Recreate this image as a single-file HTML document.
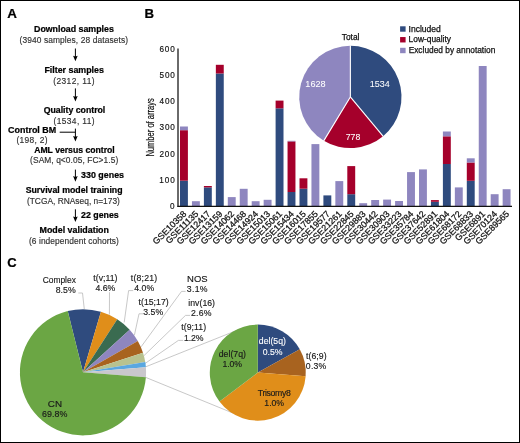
<!DOCTYPE html>
<html><head><meta charset="utf-8"><style>
html,body{margin:0;padding:0;background:#fff;}
svg{display:block;will-change:transform;}
text{font-family:"Liberation Sans",sans-serif;}
</style></head><body>
<svg width="520" height="443" viewBox="0 0 520 443">
<rect x="0.5" y="0.5" width="519" height="442" fill="#fff" stroke="#000" stroke-width="1"/>
<text x="7.27" y="17.8" font-size="12.4" font-weight="bold" fill="#000" stroke="#000" stroke-width="0.22" textLength="9.66" lengthAdjust="spacingAndGlyphs">A</text>
<text x="144.54" y="18.0" font-size="12.4" font-weight="bold" fill="#000" stroke="#000" stroke-width="0.22" textLength="9.55" lengthAdjust="spacingAndGlyphs">B</text>
<text x="7.28" y="266.6" font-size="12.4" font-weight="bold" fill="#000" stroke="#000" stroke-width="0.22" textLength="9.37" lengthAdjust="spacingAndGlyphs">C</text>
<text x="34.03" y="31.9" font-size="8.7" font-weight="bold" fill="#000" stroke="#000" stroke-width="0.22" textLength="79.81" lengthAdjust="spacingAndGlyphs">Download samples</text>
<text x="19.50" y="43.2" font-size="8.4" fill="#303030" stroke="#303030" stroke-width="0.15" textLength="108.52" lengthAdjust="spacing">(3940 samples, 28 datasets)</text>
<line x1="75.4" y1="48.5" x2="75.4" y2="58.3" stroke="#000" stroke-width="1"/>
<path d="M73.10,55.70 L75.4,61.3 L77.70,55.70 L75.4,56.50Z" fill="#000"/>
<text x="44.42" y="73" font-size="8.7" font-weight="bold" fill="#000" stroke="#000" stroke-width="0.22" textLength="59.51" lengthAdjust="spacingAndGlyphs">Filter samples</text>
<text x="53.30" y="83.8" font-size="8.4" fill="#303030" stroke="#303030" stroke-width="0.15" textLength="41.20" lengthAdjust="spacing">(2312, 11)</text>
<line x1="75.4" y1="88.4" x2="75.4" y2="98.5" stroke="#000" stroke-width="1"/>
<path d="M73.10,95.90 L75.4,101.5 L77.70,95.90 L75.4,96.70Z" fill="#000"/>
<text x="43.65" y="113.1" font-size="8.7" font-weight="bold" fill="#000" stroke="#000" stroke-width="0.22" textLength="61.67" lengthAdjust="spacingAndGlyphs">Quality control</text>
<text x="53.50" y="123.5" font-size="8.4" fill="#303030" stroke="#303030" stroke-width="0.15" textLength="41.10" lengthAdjust="spacing">(1534, 11)</text>
<text x="8.14" y="133.2" font-size="8.7" font-weight="bold" fill="#000" stroke="#000" stroke-width="0.22" textLength="48.04" lengthAdjust="spacingAndGlyphs">Control BM</text>
<text x="16.40" y="143.0" font-size="8.4" fill="#303030" stroke="#303030" stroke-width="0.15" textLength="31.12" lengthAdjust="spacing">(198, 2)</text>
<line x1="59.7" y1="132.2" x2="75.4" y2="132.2" stroke="#000" stroke-width="1"/>
<line x1="75.4" y1="128.6" x2="75.4" y2="138.5" stroke="#000" stroke-width="1"/>
<path d="M73.10,135.90 L75.4,141.5 L77.70,135.90 L75.4,136.70Z" fill="#000"/>
<text x="34.18" y="152.7" font-size="8.7" font-weight="bold" fill="#000" stroke="#000" stroke-width="0.22" textLength="80.52" lengthAdjust="spacingAndGlyphs">AML versus control</text>
<text x="30.10" y="163.3" font-size="8.4" fill="#303030" stroke="#303030" stroke-width="0.15" textLength="88.11" lengthAdjust="spacing">(SAM, q&lt;0.05, FC&gt;1.5)</text>
<line x1="75.4" y1="169.6" x2="75.4" y2="178.7" stroke="#000" stroke-width="1"/>
<path d="M73.10,176.10 L75.4,181.7 L77.70,176.10 L75.4,176.90Z" fill="#000"/>
<text x="81.10" y="177.7" font-size="8.7" font-weight="bold" fill="#000" stroke="#000" stroke-width="0.22" textLength="42.95" lengthAdjust="spacingAndGlyphs">330 genes</text>
<text x="25.66" y="193" font-size="8.7" font-weight="bold" fill="#000" stroke="#000" stroke-width="0.22" textLength="96.92" lengthAdjust="spacingAndGlyphs">Survival model training</text>
<text x="26.90" y="203.7" font-size="8.4" fill="#303030" stroke="#303030" stroke-width="0.15" textLength="93.01" lengthAdjust="spacing">(TCGA, RNAseq, n=173)</text>
<line x1="75.4" y1="209.3" x2="75.4" y2="219" stroke="#000" stroke-width="1"/>
<path d="M73.10,216.40 L75.4,222 L77.70,216.40 L75.4,217.20Z" fill="#000"/>
<text x="81.01" y="218.4" font-size="8.7" font-weight="bold" fill="#000" stroke="#000" stroke-width="0.22" textLength="37.72" lengthAdjust="spacingAndGlyphs">22 genes</text>
<text x="39.52" y="232.7" font-size="8.7" font-weight="bold" fill="#000" stroke="#000" stroke-width="0.22" textLength="69.42" lengthAdjust="spacingAndGlyphs">Model validation</text>
<text x="29.00" y="243.5" font-size="8.4" fill="#303030" stroke="#303030" stroke-width="0.15" textLength="89.91" lengthAdjust="spacing">(6 independent cohorts)</text>
<rect x="180.00" y="180.7" width="7.9" height="25.30" fill="#2f4b7e"/>
<rect x="180.00" y="130.2" width="7.9" height="50.50" fill="#a5002b"/>
<rect x="180.00" y="126.5" width="7.9" height="3.70" fill="#8e86bf"/>
<text transform="translate(187.05,214.4) rotate(-45)" font-size="8.9" text-anchor="end" fill="#111" stroke="#111" stroke-width="0.25">GSE10358</text>
<rect x="191.95" y="201.2" width="7.9" height="4.80" fill="#8e86bf"/>
<text transform="translate(199.00,214.4) rotate(-45)" font-size="8.9" text-anchor="end" fill="#111" stroke="#111" stroke-width="0.25">GSE11135</text>
<rect x="203.90" y="187.4" width="7.9" height="18.60" fill="#2f4b7e"/>
<rect x="203.90" y="186" width="7.9" height="1.40" fill="#a5002b"/>
<text transform="translate(210.95,214.4) rotate(-45)" font-size="8.9" text-anchor="end" fill="#111" stroke="#111" stroke-width="0.25">GSE12417</text>
<rect x="215.85" y="73.5" width="7.9" height="132.50" fill="#2f4b7e"/>
<rect x="215.85" y="64.8" width="7.9" height="8.70" fill="#a5002b"/>
<text transform="translate(222.90,214.4) rotate(-45)" font-size="8.9" text-anchor="end" fill="#111" stroke="#111" stroke-width="0.25">GSE13159</text>
<rect x="227.80" y="197.1" width="7.9" height="8.90" fill="#8e86bf"/>
<text transform="translate(234.85,214.4) rotate(-45)" font-size="8.9" text-anchor="end" fill="#111" stroke="#111" stroke-width="0.25">GSE14062</text>
<rect x="239.75" y="188.8" width="7.9" height="17.20" fill="#8e86bf"/>
<text transform="translate(246.80,214.4) rotate(-45)" font-size="8.9" text-anchor="end" fill="#111" stroke="#111" stroke-width="0.25">GSE14468</text>
<rect x="251.70" y="201.2" width="7.9" height="4.80" fill="#8e86bf"/>
<text transform="translate(258.75,214.4) rotate(-45)" font-size="8.9" text-anchor="end" fill="#111" stroke="#111" stroke-width="0.25">GSE14924</text>
<rect x="263.65" y="199.8" width="7.9" height="6.20" fill="#8e86bf"/>
<text transform="translate(270.70,214.4) rotate(-45)" font-size="8.9" text-anchor="end" fill="#111" stroke="#111" stroke-width="0.25">GSE15013</text>
<rect x="275.60" y="108.3" width="7.9" height="97.70" fill="#2f4b7e"/>
<rect x="275.60" y="100.6" width="7.9" height="7.70" fill="#a5002b"/>
<text transform="translate(282.65,214.4) rotate(-45)" font-size="8.9" text-anchor="end" fill="#111" stroke="#111" stroke-width="0.25">GSE15061</text>
<rect x="287.55" y="192" width="7.9" height="14.00" fill="#2f4b7e"/>
<rect x="287.55" y="141.4" width="7.9" height="50.60" fill="#a5002b"/>
<rect x="287.55" y="140.8" width="7.9" height="0.60" fill="#8e86bf"/>
<text transform="translate(294.60,214.4) rotate(-45)" font-size="8.9" text-anchor="end" fill="#111" stroke="#111" stroke-width="0.25">GSE15434</text>
<rect x="299.50" y="188.7" width="7.9" height="17.30" fill="#2f4b7e"/>
<rect x="299.50" y="178.3" width="7.9" height="10.40" fill="#a5002b"/>
<text transform="translate(306.55,214.4) rotate(-45)" font-size="8.9" text-anchor="end" fill="#111" stroke="#111" stroke-width="0.25">GSE16015</text>
<rect x="311.45" y="144.1" width="7.9" height="61.90" fill="#8e86bf"/>
<text transform="translate(318.50,214.4) rotate(-45)" font-size="8.9" text-anchor="end" fill="#111" stroke="#111" stroke-width="0.25">GSE17855</text>
<rect x="323.40" y="195.4" width="7.9" height="10.60" fill="#2f4b7e"/>
<text transform="translate(330.45,214.4) rotate(-45)" font-size="8.9" text-anchor="end" fill="#111" stroke="#111" stroke-width="0.25">GSE19577</text>
<rect x="335.35" y="181.1" width="7.9" height="24.90" fill="#8e86bf"/>
<text transform="translate(342.40,214.4) rotate(-45)" font-size="8.9" text-anchor="end" fill="#111" stroke="#111" stroke-width="0.25">GSE21261</text>
<rect x="347.30" y="194.2" width="7.9" height="11.80" fill="#2f4b7e"/>
<rect x="347.30" y="166.1" width="7.9" height="28.10" fill="#a5002b"/>
<text transform="translate(354.35,214.4) rotate(-45)" font-size="8.9" text-anchor="end" fill="#111" stroke="#111" stroke-width="0.25">GSE22845</text>
<rect x="359.25" y="203.2" width="7.9" height="2.80" fill="#8e86bf"/>
<text transform="translate(366.30,214.4) rotate(-45)" font-size="8.9" text-anchor="end" fill="#111" stroke="#111" stroke-width="0.25">GSE29883</text>
<rect x="371.20" y="200" width="7.9" height="6.00" fill="#8e86bf"/>
<text transform="translate(378.25,214.4) rotate(-45)" font-size="8.9" text-anchor="end" fill="#111" stroke="#111" stroke-width="0.25">GSE30442</text>
<rect x="383.15" y="199.6" width="7.9" height="6.40" fill="#8e86bf"/>
<text transform="translate(390.20,214.4) rotate(-45)" font-size="8.9" text-anchor="end" fill="#111" stroke="#111" stroke-width="0.25">GSE30903</text>
<rect x="395.10" y="201" width="7.9" height="5.00" fill="#8e86bf"/>
<text transform="translate(402.15,214.4) rotate(-45)" font-size="8.9" text-anchor="end" fill="#111" stroke="#111" stroke-width="0.25">GSE33223</text>
<rect x="407.05" y="172.1" width="7.9" height="33.90" fill="#8e86bf"/>
<text transform="translate(414.10,214.4) rotate(-45)" font-size="8.9" text-anchor="end" fill="#111" stroke="#111" stroke-width="0.25">GSE35784</text>
<rect x="419.00" y="169.4" width="7.9" height="36.60" fill="#8e86bf"/>
<text transform="translate(426.05,214.4) rotate(-45)" font-size="8.9" text-anchor="end" fill="#111" stroke="#111" stroke-width="0.25">GSE37642</text>
<rect x="430.95" y="201.8" width="7.9" height="4.20" fill="#2f4b7e"/>
<rect x="430.95" y="200.1" width="7.9" height="1.70" fill="#a5002b"/>
<text transform="translate(438.00,214.4) rotate(-45)" font-size="8.9" text-anchor="end" fill="#111" stroke="#111" stroke-width="0.25">GSE52891</text>
<rect x="442.90" y="164" width="7.9" height="42.00" fill="#2f4b7e"/>
<rect x="442.90" y="136.3" width="7.9" height="27.70" fill="#a5002b"/>
<rect x="442.90" y="131.5" width="7.9" height="4.80" fill="#8e86bf"/>
<text transform="translate(449.95,214.4) rotate(-45)" font-size="8.9" text-anchor="end" fill="#111" stroke="#111" stroke-width="0.25">GSE61804</text>
<rect x="454.85" y="187.4" width="7.9" height="18.60" fill="#8e86bf"/>
<text transform="translate(461.90,214.4) rotate(-45)" font-size="8.9" text-anchor="end" fill="#111" stroke="#111" stroke-width="0.25">GSE68172</text>
<rect x="466.80" y="180.8" width="7.9" height="25.20" fill="#2f4b7e"/>
<rect x="466.80" y="162.5" width="7.9" height="18.30" fill="#a5002b"/>
<rect x="466.80" y="158.3" width="7.9" height="4.20" fill="#8e86bf"/>
<text transform="translate(473.85,214.4) rotate(-45)" font-size="8.9" text-anchor="end" fill="#111" stroke="#111" stroke-width="0.25">GSE68833</text>
<rect x="478.75" y="66" width="7.9" height="140.00" fill="#8e86bf"/>
<text transform="translate(485.80,214.4) rotate(-45)" font-size="8.9" text-anchor="end" fill="#111" stroke="#111" stroke-width="0.25">GSE6891</text>
<rect x="490.70" y="194.2" width="7.9" height="11.80" fill="#8e86bf"/>
<text transform="translate(497.75,214.4) rotate(-45)" font-size="8.9" text-anchor="end" fill="#111" stroke="#111" stroke-width="0.25">GSE70124</text>
<rect x="502.65" y="189.2" width="7.9" height="16.80" fill="#8e86bf"/>
<text transform="translate(509.70,214.4) rotate(-45)" font-size="8.9" text-anchor="end" fill="#111" stroke="#111" stroke-width="0.25">GSE89565</text>
<line x1="178.0" y1="48.6" x2="178.0" y2="207" stroke="#111" stroke-width="1.25"/>
<line x1="177.4" y1="206.4" x2="512" y2="206.4" stroke="#111" stroke-width="1.25"/>
<text x="169.99" y="209.0" font-size="8.2" fill="#111" stroke="#111" stroke-width="0.15" textLength="4.92" lengthAdjust="spacing">0</text>
<text x="159.19" y="182.82" font-size="8.2" fill="#111" stroke="#111" stroke-width="0.15" textLength="15.73" lengthAdjust="spacing">100</text>
<text x="159.39" y="156.64000000000001" font-size="8.2" fill="#111" stroke="#111" stroke-width="0.15" textLength="15.53" lengthAdjust="spacing">200</text>
<text x="159.49" y="130.46" font-size="8.2" fill="#111" stroke="#111" stroke-width="0.15" textLength="15.42" lengthAdjust="spacing">300</text>
<text x="159.62" y="104.28" font-size="8.2" fill="#111" stroke="#111" stroke-width="0.15" textLength="15.30" lengthAdjust="spacing">400</text>
<text x="159.47" y="78.1" font-size="8.2" fill="#111" stroke="#111" stroke-width="0.15" textLength="15.44" lengthAdjust="spacing">500</text>
<text x="159.39" y="51.92000000000001" font-size="8.2" fill="#111" stroke="#111" stroke-width="0.15" textLength="15.53" lengthAdjust="spacing">600</text>
<text transform="translate(153.9,156.6) rotate(-90)" font-size="10.6" textLength="58.4" lengthAdjust="spacingAndGlyphs" fill="#111" stroke="#111" stroke-width="0.2">Number of arrays</text>
<path d="M350.35,96.95 L350.35,45.80 A51.15,51.15 0 0 1 383.12,136.23 Z" fill="#2f4b7e"/>
<path d="M350.35,96.95 L383.12,136.23 A51.15,51.15 0 0 1 323.82,140.68 Z" fill="#a5002b"/>
<path d="M350.35,96.95 L323.82,140.68 A51.15,51.15 0 0 1 350.35,45.80 Z" fill="#8e86bf"/>
<line x1="350.35" y1="96.95" x2="350.35" y2="45.30" stroke="#fff" stroke-width="1.1"/>
<line x1="350.35" y1="96.95" x2="383.44" y2="136.61" stroke="#fff" stroke-width="1.1"/>
<line x1="350.35" y1="96.95" x2="323.56" y2="141.11" stroke="#fff" stroke-width="1.1"/>
<text x="341.73" y="39.5" font-size="8.7" fill="#111" stroke="#111" stroke-width="0.25" textLength="17.71" lengthAdjust="spacingAndGlyphs">Total</text>
<text x="369.73" y="87.2" font-size="8.2" fill="#fff" stroke="#fff" stroke-width="0.05" textLength="19.94" lengthAdjust="spacingAndGlyphs">1534</text>
<text x="305.32" y="87.2" font-size="8.2" fill="#fff" stroke="#fff" stroke-width="0.05" textLength="20.27" lengthAdjust="spacingAndGlyphs">1628</text>
<text x="345.76" y="140.2" font-size="8.2" fill="#fff" stroke="#fff" stroke-width="0.05" textLength="14.60" lengthAdjust="spacingAndGlyphs">778</text>
<rect x="400.1" y="26.30" width="5.5" height="5.4" fill="#2f4b7e"/>
<text x="408.53" y="31.6" font-size="8.3" fill="#111" stroke="#111" stroke-width="0.25" textLength="32.31" lengthAdjust="spacingAndGlyphs">Included</text>
<rect x="400.1" y="37.05" width="5.5" height="5.4" fill="#a5002b"/>
<text x="408.63" y="42.349999999999994" font-size="8.3" fill="#111" stroke="#111" stroke-width="0.25" textLength="42.38" lengthAdjust="spacingAndGlyphs">Low-quality</text>
<rect x="400.1" y="47.80" width="5.5" height="5.4" fill="#8e86bf"/>
<text x="408.63" y="53.099999999999994" font-size="8.3" fill="#111" stroke="#111" stroke-width="0.25" textLength="86.70" lengthAdjust="spacingAndGlyphs">Excluded by annotation</text>
<polyline points="78.3,293 82.5,293 84.3,309.2" stroke="#b0b0b0" stroke-width="0.7" fill="none"/>
<polyline points="109.5,292.2 109.4,314.5" stroke="#b0b0b0" stroke-width="0.7" fill="none"/>
<polyline points="133.2,290.6 128.6,290.6 124.2,322.4" stroke="#b0b0b0" stroke-width="0.7" fill="none"/>
<polyline points="143,313.8 139,313.8 134.4,335.2" stroke="#b0b0b0" stroke-width="0.7" fill="none"/>
<polyline points="185.6,291.4 181.5,291.4 141.1,346.8" stroke="#b0b0b0" stroke-width="0.7" fill="none"/>
<polyline points="190,315.4 185.5,315.4 144,355.6" stroke="#b0b0b0" stroke-width="0.7" fill="none"/>
<polyline points="183.1,340.4 178.4,340.4 144.9,363.6" stroke="#b0b0b0" stroke-width="0.7" fill="none"/>
<line x1="145.5" y1="366.9" x2="243" y2="327.9" stroke="#b0b0b0" stroke-width="0.7" fill="none"/>
<line x1="145.5" y1="377.3" x2="233.5" y2="413.3" stroke="#b0b0b0" stroke-width="0.7" fill="none"/>
<path d="M83.0,372.3 L67.73,311.07 A63.1,63.1 0 0 1 100.92,311.80 Z" fill="#2f4b7e"/>
<path d="M83.0,372.3 L100.92,311.80 A63.1,63.1 0 0 1 117.27,319.32 Z" fill="#e08e1a"/>
<path d="M83.0,372.3 L117.27,319.32 A63.1,63.1 0 0 1 129.67,329.83 Z" fill="#3a6b50"/>
<path d="M83.0,372.3 L129.67,329.83 A63.1,63.1 0 0 1 137.81,341.04 Z" fill="#8e86bf"/>
<path d="M83.0,372.3 L137.81,341.04 A63.1,63.1 0 0 1 143.01,352.80 Z" fill="#a8631f"/>
<path d="M83.0,372.3 L143.01,352.80 A63.1,63.1 0 0 1 145.27,362.10 Z" fill="#b8c28f"/>
<path d="M83.0,372.3 L145.27,362.10 A63.1,63.1 0 0 1 145.89,367.13 Z" fill="#5aa7e0"/>
<path d="M83.0,372.3 L145.89,367.13 A63.1,63.1 0 0 1 145.90,377.36 Z" fill="#c9c7cc"/>
<path d="M83.0,372.3 L145.90,377.36 A63.1,63.1 0 1 1 67.73,311.07 Z" fill="#6ba644"/>
<path d="M257.8,372.6 L257.80,324.60 A48,48 0 0 1 299.78,349.33 Z" fill="#2f4b7e"/>
<path d="M257.8,372.6 L299.78,349.33 A48,48 0 0 1 305.65,376.37 Z" fill="#a8631f"/>
<path d="M257.8,372.6 L305.65,376.37 A48,48 0 0 1 219.47,401.49 Z" fill="#e08e1a"/>
<path d="M257.8,372.6 L219.47,401.49 A48,48 0 0 1 257.80,324.60 Z" fill="#6ba644"/>
<text x="42.68" y="282.8" font-size="8.7" fill="#1a1a1a" stroke="#1a1a1a" stroke-width="0.15" textLength="33.21" lengthAdjust="spacingAndGlyphs">Complex</text>
<text x="55.63" y="293.2" font-size="8.7" fill="#1a1a1a" stroke="#1a1a1a" stroke-width="0.15" textLength="20.17" lengthAdjust="spacing">8.5%</text>
<text x="93.27" y="280.8" font-size="8.7" fill="#1a1a1a" stroke="#1a1a1a" stroke-width="0.15" textLength="24.15" lengthAdjust="spacing">t(v;11)</text>
<text x="95.50" y="291.3" font-size="8.7" fill="#1a1a1a" stroke="#1a1a1a" stroke-width="0.15" textLength="19.69" lengthAdjust="spacing">4.6%</text>
<text x="130.87" y="280.8" font-size="8.7" fill="#1a1a1a" stroke="#1a1a1a" stroke-width="0.15" textLength="26.25" lengthAdjust="spacing">t(8;21)</text>
<text x="134.20" y="291.3" font-size="8.7" fill="#1a1a1a" stroke="#1a1a1a" stroke-width="0.15" textLength="19.99" lengthAdjust="spacing">4.0%</text>
<text x="138.57" y="304.5" font-size="8.7" fill="#1a1a1a" stroke="#1a1a1a" stroke-width="0.15" textLength="30.06" lengthAdjust="spacing">t(15;17)</text>
<text x="143.17" y="314.8" font-size="8.7" fill="#1a1a1a" stroke="#1a1a1a" stroke-width="0.15" textLength="20.03" lengthAdjust="spacing">3.5%</text>
<text x="187.14" y="281.6" font-size="8.7" fill="#1a1a1a" stroke="#1a1a1a" stroke-width="0.15" textLength="20.48" lengthAdjust="spacingAndGlyphs">NOS</text>
<text x="186.77" y="292" font-size="8.7" fill="#1a1a1a" stroke="#1a1a1a" stroke-width="0.15" textLength="20.73" lengthAdjust="spacing">3.1%</text>
<text x="188.23" y="305.8" font-size="8.7" fill="#1a1a1a" stroke="#1a1a1a" stroke-width="0.15" textLength="26.80" lengthAdjust="spacing">inv(16)</text>
<text x="190.97" y="315.9" font-size="8.7" fill="#1a1a1a" stroke="#1a1a1a" stroke-width="0.15" textLength="20.63" lengthAdjust="spacing">2.6%</text>
<text x="181.27" y="329.9" font-size="8.7" fill="#1a1a1a" stroke="#1a1a1a" stroke-width="0.15" textLength="24.86" lengthAdjust="spacing">t(9;11)</text>
<text x="184.05" y="340.8" font-size="8.7" fill="#1a1a1a" stroke="#1a1a1a" stroke-width="0.15" textLength="19.55" lengthAdjust="spacing">1.2%</text>
<text x="47.81" y="407.1" font-size="8.9" fill="#1a1a1a" stroke="#1a1a1a" stroke-width="0.15" textLength="14.22" lengthAdjust="spacingAndGlyphs">CN</text>
<text x="42.05" y="417.4" font-size="8.9" fill="#1a1a1a" stroke="#1a1a1a" stroke-width="0.15" textLength="25.24" lengthAdjust="spacing">69.8%</text>
<text x="258.85" y="344.2" font-size="8.7" fill="#fff" stroke="#fff" stroke-width="0.1" textLength="27.07" lengthAdjust="spacing">del(5q)</text>
<text x="262.77" y="354.6" font-size="8.7" fill="#fff" stroke="#fff" stroke-width="0.1" textLength="19.83" lengthAdjust="spacing">0.5%</text>
<text x="306.07" y="358.8" font-size="8.7" fill="#1a1a1a" stroke="#1a1a1a" stroke-width="0.15" textLength="20.47" lengthAdjust="spacing">t(6;9)</text>
<text x="305.87" y="369.4" font-size="8.7" fill="#1a1a1a" stroke="#1a1a1a" stroke-width="0.15" textLength="20.43" lengthAdjust="spacing">0.3%</text>
<text x="257.73" y="396.2" font-size="8.7" fill="#1a1a1a" stroke="#1a1a1a" stroke-width="0.15" textLength="33.14" lengthAdjust="spacing">Trisomy8</text>
<text x="264.35" y="406.2" font-size="8.7" fill="#1a1a1a" stroke="#1a1a1a" stroke-width="0.15" textLength="19.75" lengthAdjust="spacing">1.0%</text>
<text x="218.75" y="356.9" font-size="8.7" fill="#1a1a1a" stroke="#1a1a1a" stroke-width="0.15" textLength="27.17" lengthAdjust="spacing">del(7q)</text>
<text x="222.45" y="366.5" font-size="8.7" fill="#1a1a1a" stroke="#1a1a1a" stroke-width="0.15" textLength="19.55" lengthAdjust="spacing">1.0%</text>
</svg>
</body></html>
